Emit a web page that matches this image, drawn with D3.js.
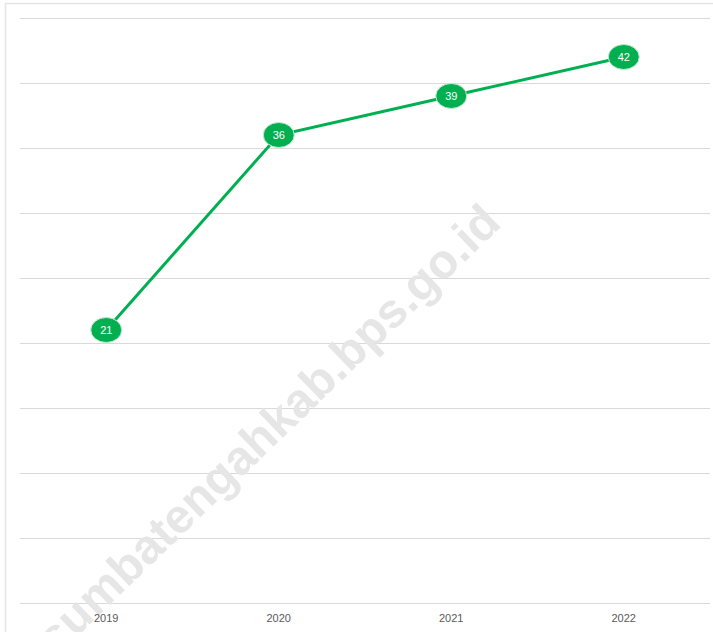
<!DOCTYPE html>
<html lang="en">
<head>
<meta charset="utf-8">
<script src="https://d3js.org/d3.v7.min.js"></script>
<style>
  body { margin: 0; background: #fff; }
  svg { display: block; }
</style>
</head>
<body>
<svg width="713" height="632"></svg>
<script>
// data
var years = ["2019", "2020", "2021", "2022"];
var values = [21, 36, 39, 42];
var yTicks = [0, 5, 10, 15, 20, 25, 30, 35, 40, 45];

var svg = d3.select("svg");
var plotLeft = 20, plotRight = 710, plotTop = 18, plotBottom = 603;

// outer frame
svg.append("rect")
  .attr("x", 5.5).attr("y", 3.5)
  .attr("width", 720).attr("height", 700)
  .attr("fill", "none")
  .attr("stroke", "#e4e4e4")
  .attr("stroke-width", 1.5);

var x = d3.scaleBand().domain(years).range([plotLeft, plotRight]);
var y = d3.scaleLinear().domain([0, 45]).range([plotBottom, plotTop]);

// gridlines
svg.append("g").selectAll("line")
  .data(yTicks)
  .enter().append("line")
  .attr("x1", plotLeft).attr("x2", plotRight)
  .attr("y1", function(d) { return Math.round(y(d)) + 0.5; })
  .attr("y2", function(d) { return Math.round(y(d)) + 0.5; })
  .attr("stroke", "#d9d9d9")
  .attr("stroke-width", 1);

// watermark
svg.append("text")
  .attr("transform", "translate(268,429) rotate(-44)")
  .attr("text-anchor", "middle")
  .attr("dominant-baseline", "central")
  .attr("font-family", "Liberation Sans, Arial, sans-serif")
  .attr("font-weight", "bold")
  .attr("font-size", 48)
  .attr("fill", "#e6e6e6")
  .text("sumbatengahkab.bps.go.id");

// x labels
svg.append("g").selectAll("text")
  .data(years)
  .enter().append("text")
  .attr("x", function(d) { return x(d) + x.bandwidth() / 2; })
  .attr("y", 622)
  .attr("text-anchor", "middle")
  .attr("font-family", "Liberation Sans, Arial, sans-serif")
  .attr("font-size", 11)
  .attr("fill", "#595959")
  .text(function(d) { return d; });

var pts = years.map(function(d, i) { return { year: d, v: values[i] }; });

var line = d3.line()
  .x(function(d) { return x(d.year) + x.bandwidth() / 2; })
  .y(function(d) { return y(d.v); });

svg.append("path")
  .datum(pts)
  .attr("d", line)
  .attr("fill", "none")
  .attr("stroke", "#00b050")
  .attr("stroke-width", 3);

var marks = svg.append("g").selectAll("g")
  .data(pts)
  .enter().append("g")
  .attr("transform", function(d) {
    return "translate(" + (x(d.year) + x.bandwidth() / 2) + "," + y(d.v) + ")";
  });

marks.append("ellipse")
  .attr("rx", 15.5).attr("ry", 12.5)
  .attr("fill", "#00b050")
  .attr("stroke", "#c9e9d5")
  .attr("stroke-width", 1);

marks.append("text")
  .attr("text-anchor", "middle")
  .attr("dy", "0.36em")
  .attr("font-family", "Liberation Sans, Arial, sans-serif")
  .attr("font-size", 11)
  .attr("fill", "#ffffff")
  .text(function(d) { return d.v; });
</script>
</body>
</html>
